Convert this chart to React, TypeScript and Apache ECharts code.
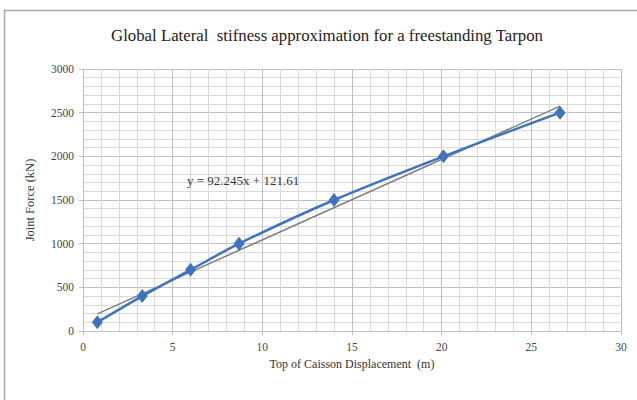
import React, { useEffect, useRef } from "react";
import * as echarts from "echarts";

const displacement = [0.8, 3.3, 6.0, 8.7, 14.0, 20.1, 26.6];
const jointForce = [100, 400, 700, 1000, 1500, 2000, 2500];
const trendSlope = 92.245;
const trendIntercept = 121.61;
const trendRange = [0.8, 26.6];
const titleText = "Global Lateral  stifness approximation for a freestanding Tarpon";
const xName = "Top of Caisson Displacement  (m)";
const yName = "Joint Force (kN)";
const equationText = "y = 92.245x + 121.61";

export default function App() {
  const ref = useRef<HTMLDivElement>(null);
  useEffect(() => {
    if (!ref.current) return;
    const chart = echarts.init(ref.current, null, { renderer: "svg" });
    const font = "'Liberation Serif', 'DejaVu Serif', serif";
    chart.setOption({
      animation: false,
      backgroundColor: "#ffffff",
      textStyle: { fontFamily: font },
      grid: { left: 83, right: 16, top: 69, bottom: 69 },
      xAxis: {
        type: "value",
        min: 0,
        max: 30,
        interval: 5,
        name: xName,
        nameLocation: "middle",
        nameGap: 27,
        nameTextStyle: { fontFamily: font, fontSize: 12, color: "#333" },
        axisLine: { show: true, lineStyle: { color: "#bfbfbf" } },
        axisTick: { show: true, length: 4, lineStyle: { color: "#bfbfbf" } },
        axisLabel: { fontFamily: font, fontSize: 11.5, color: "#444", margin: 10 },
        splitLine: { show: true, lineStyle: { color: "#bfbfbf", width: 1 } },
        minorTick: { show: false, splitNumber: 5 },
        minorSplitLine: { show: true, lineStyle: { color: "#d9d9d9", width: 1 } },
      },
      yAxis: {
        type: "value",
        min: 0,
        max: 3000,
        interval: 500,
        name: yName,
        nameLocation: "middle",
        nameGap: 47,
        nameRotate: 90,
        nameTextStyle: { fontFamily: font, fontSize: 12.5, color: "#333" },
        axisLine: { show: true, lineStyle: { color: "#bfbfbf" } },
        axisTick: { show: true, length: 4, lineStyle: { color: "#bfbfbf" } },
        axisLabel: {
          fontFamily: font,
          fontSize: 11.5,
          color: "#444",
          margin: 9,
          formatter: (v: number) => String(v),
        },
        splitLine: { show: true, lineStyle: { color: "#bfbfbf", width: 1 } },
        minorTick: { show: false, splitNumber: 5 },
        minorSplitLine: { show: true, lineStyle: { color: "#d9d9d9", width: 1 } },
      },
      series: [
        {
          type: "line",
          data: trendRange.map((x) => [x, trendSlope * x + trendIntercept]),
          symbol: "none",
          lineStyle: { color: "#7f7f7f", width: 1.5 },
          z: 2,
        },
        {
          type: "line",
          data: displacement.map((x, i) => [x, jointForce[i]]),
          smooth: 0.3,
          symbol: "diamond",
          symbolSize: [11, 14],
          itemStyle: { color: "#3f73bd" },
          lineStyle: { color: "#3f73bd", width: 2.5 },
          z: 3,
        },
      ],
      graphic: [
        {
          type: "rect",
          shape: { x: 4.5, y: 10.5, width: 640, height: 400 },
          style: { fill: "none", stroke: "#a6a6a6", lineWidth: 1.5 },
          silent: true,
        },
        {
          type: "text",
          x: 327,
          y: 35,
          style: {
            text: titleText,
            font: `16.8px ${font}`,
            fill: "#222",
            textAlign: "center",
            textVerticalAlign: "middle",
          },
          z: 10,
        },
        {
          type: "text",
          x: 187,
          y: 180,
          style: {
            text: equationText,
            font: `13px ${font}`,
            fill: "#333",
            textVerticalAlign: "middle",
          },
          z: 10,
        },
      ],
    });
    return () => chart.dispose();
  }, []);
  return <div ref={ref} style={{ width: 637, height: 400, position: "absolute", left: 0, top: 0 }} />;
}
